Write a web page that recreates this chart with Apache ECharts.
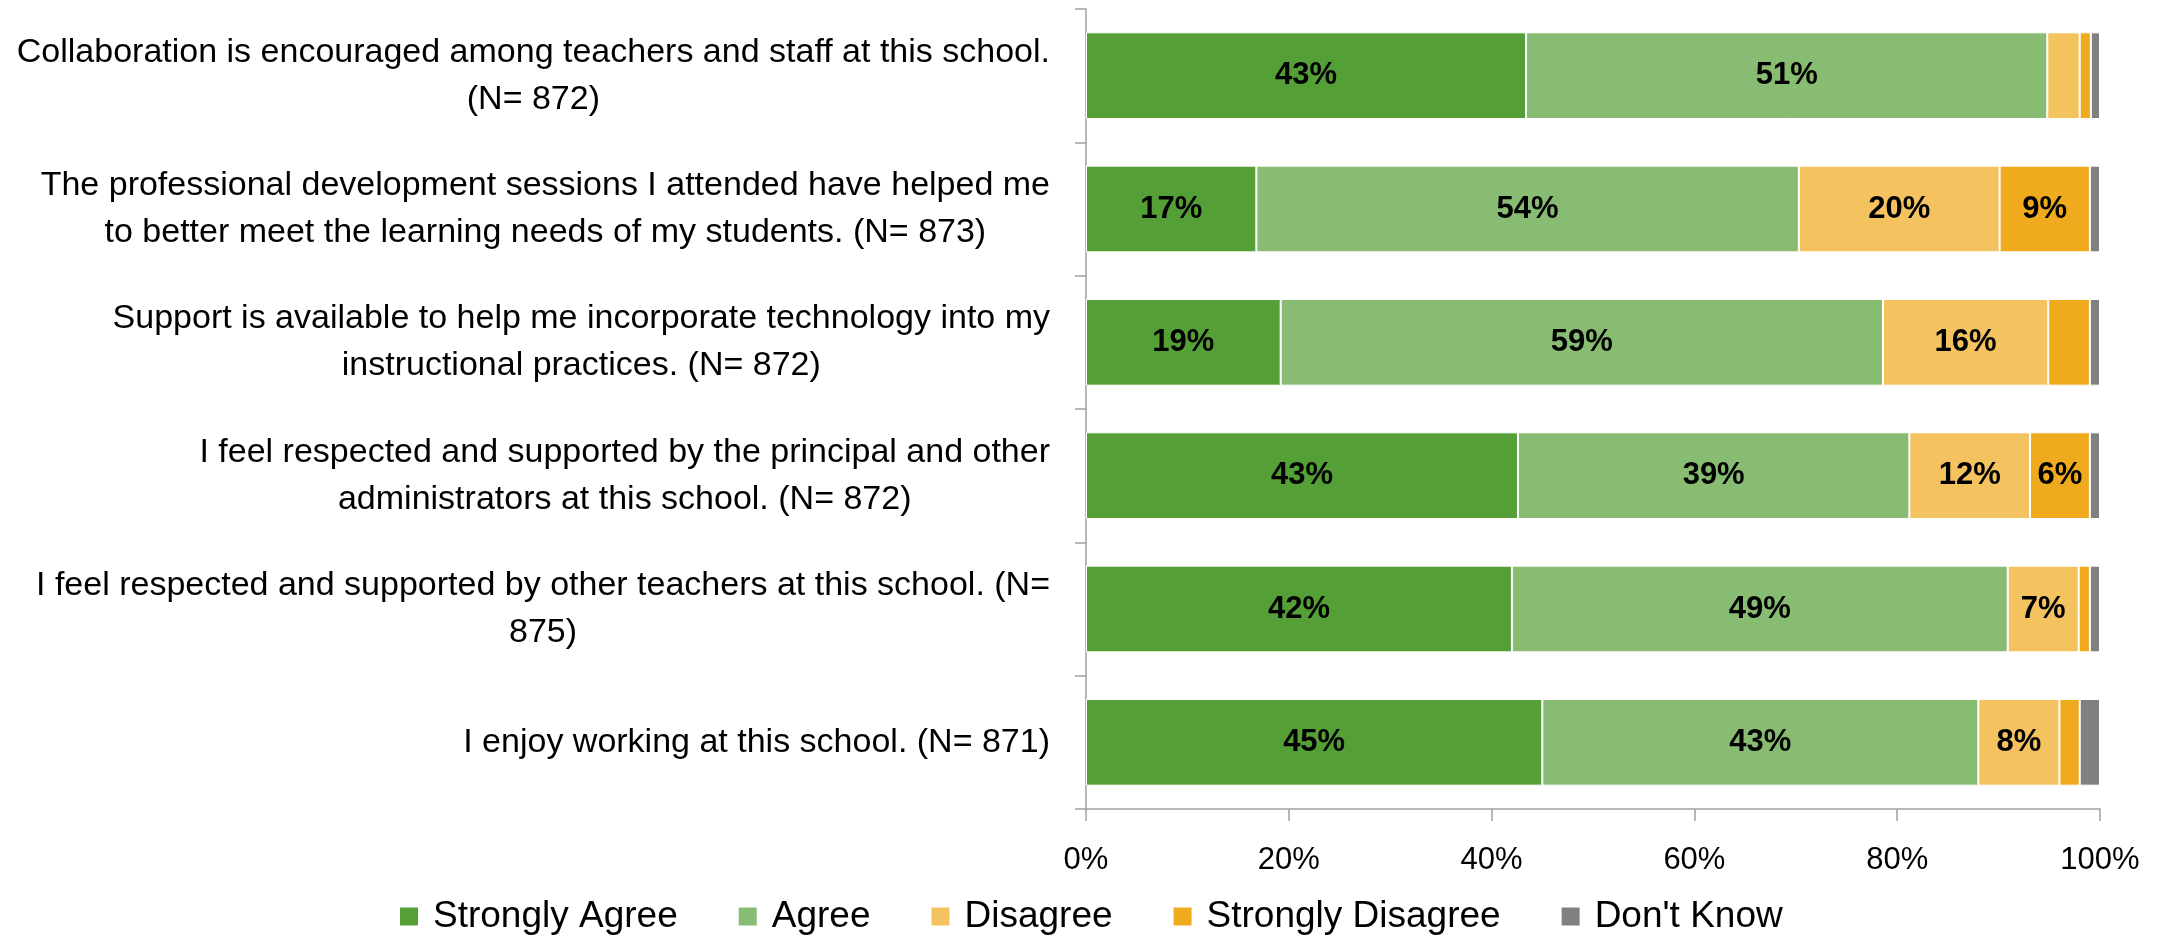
<!DOCTYPE html>
<html>
<head>
<meta charset="utf-8">
<title>School Climate Survey</title>
<script src="https://cdn.jsdelivr.net/npm/echarts@6/dist/echarts.min.js"></script>
<style>
  html, body { margin: 0; padding: 0; background: #ffffff; }
  #chart { width: 2165px; height: 936px; }
</style>
</head>
<body>
<div id="chart"></div>
<script>
// Survey statements, listed top to bottom
const categories = [
  'Collaboration is encouraged among teachers and staff at this school.\n(N= 872)',
  'The professional development sessions I attended have helped me\nto better meet the learning needs of my students. (N= 873)',
  'Support is available to help me incorporate technology into my\ninstructional practices. (N= 872)',
  'I feel respected and supported by the principal and other\nadministrators at this school. (N= 872)',
  'I feel respected and supported by other teachers at this school. (N=\n875)',
  'I enjoy working at this school. (N= 871)'
];

// Response shares (percent of respondents)
const stronglyAgree    = [43.4, 16.8, 19.2, 42.6, 42.0, 45.0];
const agree            = [51.4, 53.5, 59.4, 38.6, 48.9, 43.0];
const disagree         = [3.2, 19.8, 16.3, 11.9, 7.0, 8.0];
const stronglyDisagree = [1.1, 8.9, 4.1, 5.9, 1.1, 2.0];
const dontKnow         = [0.9, 1.0, 1.0, 1.0, 1.0, 2.0];

const seriesNames = ['Strongly Agree', 'Agree', 'Disagree', 'Strongly Disagree', "Don't Know"];
const seriesColors = ['#54A037', '#87BC72', '#F4C25F', '#F0AA1D', '#808080'];
const seriesData = [stronglyAgree, agree, disagree, stronglyDisagree, dontKnow];

const FONT = '"Liberation Sans", Arial, sans-serif';

const chart = echarts.init(document.getElementById('chart'), null, { renderer: 'canvas' });

const series = seriesNames.map((name, i) => ({
  name: name,
  type: 'bar',
  stack: 'total',
  barWidth: '65%',
  data: seriesData[i],
  itemStyle: { color: seriesColors[i], borderColor: '#ffffff', borderWidth: 1 },
  label: {
    show: true,
    position: 'inside',
    color: '#000000',
    fontFamily: FONT,
    fontWeight: 'bold',
    fontSize: 31,
    // small segments stay unlabeled
    formatter: p => (p.value >= 5 ? Math.round(p.value) + '%' : '')
  },
  emphasis: { disabled: true }
}));

chart.setOption({
  animation: false,
  backgroundColor: '#ffffff',
  grid: { left: 1086, right: 65, top: 9, bottom: 127, containLabel: false },
  legend: {
    data: seriesNames,
    left: 393,
    top: 893,
    itemWidth: 20,
    itemHeight: 20,
    itemGap: 59,
    icon: 'rect',
    textStyle: {
      fontFamily: FONT,
      fontSize: 37,
      color: '#000000',
      padding: [0, 0, 0, 9]
    }
  },
  xAxis: {
    type: 'value',
    min: 0,
    max: 100,
    interval: 20,
    axisLine: { show: true, lineStyle: { color: '#a0a0a0', width: 1.5 } },
    axisTick: { show: true, length: 12, lineStyle: { color: '#a0a0a0', width: 1.5 } },
    splitLine: { show: false },
    axisLabel: {
      formatter: '{value}%',
      fontFamily: FONT,
      fontSize: 31,
      color: '#000000',
      margin: 36
    }
  },
  yAxis: {
    type: 'category',
    inverse: true,
    data: categories,
    axisLine: { show: true, lineStyle: { color: '#a0a0a0', width: 1.5 } },
    axisTick: { show: true, length: 11, lineStyle: { color: '#a0a0a0', width: 1.5 } },
    splitLine: { show: false },
    axisLabel: {
      interval: 0,
      margin: 36,
      formatter: v => v.split('\n').map(line => '{c|' + line + '}').join('\n'),
      rich: {
        c: {
          align: 'center',
          fontFamily: FONT,
          fontSize: 34,
          lineHeight: 47,
          color: '#000000'
        }
      }
    }
  },
  series: series
});
</script>
</body>
</html>
